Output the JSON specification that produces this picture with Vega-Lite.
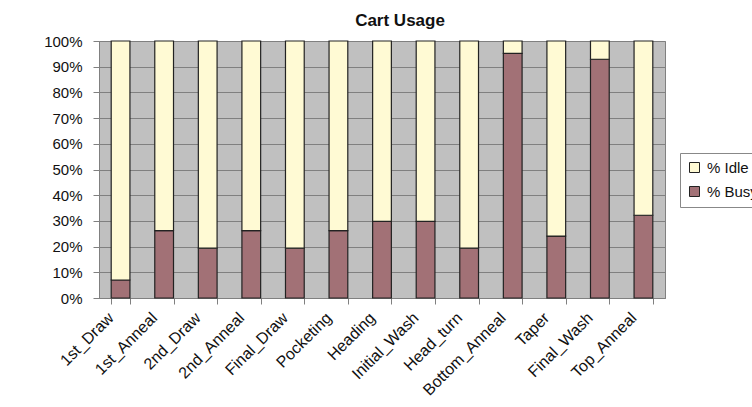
{
  "$schema": "https://vega.github.io/schema/vega-lite/v6.json",
  "width": 566,
  "height": 257,
  "autosize": {"type": "none"},
  "padding": {"left": 99, "top": 41, "right": 87, "bottom": 109},
  "background": "white",
  "title": {
    "text": "Cart Usage",
    "font": "Liberation Sans",
    "fontSize": 17,
    "fontWeight": "bold",
    "color": "#111111",
    "anchor": "middle",
    "dx": 18,
    "offset": 4
  },
  "data": {
    "values": [
      {"step": "1st_Draw", "series": "% Busy", "pct": 7},
      {"step": "1st_Draw", "series": "% Idle", "pct": 93},
      {"step": "1st_Anneal", "series": "% Busy", "pct": 26.2},
      {"step": "1st_Anneal", "series": "% Idle", "pct": 73.8},
      {"step": "2nd_Draw", "series": "% Busy", "pct": 19.4},
      {"step": "2nd_Draw", "series": "% Idle", "pct": 80.6},
      {"step": "2nd_Anneal", "series": "% Busy", "pct": 26.2},
      {"step": "2nd_Anneal", "series": "% Idle", "pct": 73.8},
      {"step": "Final_Draw", "series": "% Busy", "pct": 19.4},
      {"step": "Final_Draw", "series": "% Idle", "pct": 80.6},
      {"step": "Pocketing", "series": "% Busy", "pct": 26.2},
      {"step": "Pocketing", "series": "% Idle", "pct": 73.8},
      {"step": "Heading", "series": "% Busy", "pct": 29.8},
      {"step": "Heading", "series": "% Idle", "pct": 70.2},
      {"step": "Initial_Wash", "series": "% Busy", "pct": 29.8},
      {"step": "Initial_Wash", "series": "% Idle", "pct": 70.2},
      {"step": "Head_turn", "series": "% Busy", "pct": 19.4},
      {"step": "Head_turn", "series": "% Idle", "pct": 80.6},
      {"step": "Bottom_Anneal", "series": "% Busy", "pct": 95.2},
      {"step": "Bottom_Anneal", "series": "% Idle", "pct": 4.8},
      {"step": "Taper", "series": "% Busy", "pct": 24.1},
      {"step": "Taper", "series": "% Idle", "pct": 75.9},
      {"step": "Final_Wash", "series": "% Busy", "pct": 92.9},
      {"step": "Final_Wash", "series": "% Idle", "pct": 7.1},
      {"step": "Top_Anneal", "series": "% Busy", "pct": 32.2},
      {"step": "Top_Anneal", "series": "% Idle", "pct": 67.8}
    ]
  },
  "mark": {"type": "bar", "stroke": "#222222", "strokeWidth": 1.2},
  "encoding": {
    "x": {
      "field": "step",
      "type": "nominal",
      "sort": null,
      "title": null,
      "scale": {"paddingInner": 0.57, "paddingOuter": 0.28},
      "axis": {
        "labelAngle": -45,
        "labelAlign": "right",
        "labelBaseline": "middle",
        "labelFont": "Liberation Sans",
        "labelFontSize": 16,
        "labelColor": "#111111",
        "labelPadding": 11,
        "labelOffset": -10,
        "labelOverlap": false,
        "tickBand": "extent",
        "tickColor": "#808080",
        "tickSize": 6,
        "domainColor": "#808080",
        "grid": false
      }
    },
    "y": {
      "field": "pct",
      "type": "quantitative",
      "stack": "normalize",
      "title": null,
      "scale": {"domain": [0, 1], "nice": false},
      "axis": {
        "values": [0, 0.1, 0.2, 0.3, 0.4, 0.5, 0.6, 0.7, 0.8, 0.9, 1],
        "format": ".0%",
        "labelFont": "Liberation Sans",
        "labelFontSize": 15,
        "labelColor": "#111111",
        "labelPadding": 11,
        "tickColor": "#808080",
        "tickSize": 6,
        "domainColor": "#808080",
        "gridColor": "#808080",
        "gridWidth": 1
      }
    },
    "color": {
      "field": "series",
      "type": "nominal",
      "title": null,
      "scale": {"domain": ["% Idle", "% Busy"], "range": ["#FFFAD4", "#A27176"]},
      "legend": {
        "orient": "none",
        "legendX": 581,
        "legendY": 112,
        "symbolType": "square",
        "symbolSize": 100,
        "symbolStrokeColor": "#222222",
        "symbolStrokeWidth": 1,
        "labelFont": "Liberation Sans",
        "labelFontSize": 15,
        "labelColor": "#111111",
        "labelOffset": 5,
        "rowPadding": 8,
        "padding": 7,
        "strokeColor": "#888888",
        "fillColor": "white"
      }
    },
    "order": {"field": "series", "sort": "ascending"}
  },
  "config": {
    "view": {"fill": "#C0C0C0", "stroke": "#808080", "strokeWidth": 1}
  }
}
